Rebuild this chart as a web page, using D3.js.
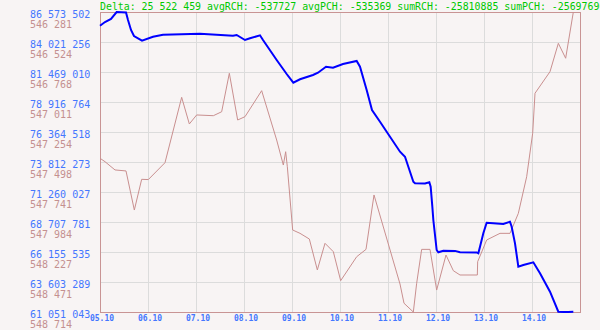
<!DOCTYPE html>
<html>
<head>
<meta charset="utf-8">
<script src="https://cdn.jsdelivr.net/npm/d3@7"></script>
<style>
  body { margin: 0; background: #f8f4f4; }
  svg { display: block; }
  text { font-family: "DejaVu Sans Mono", "Liberation Mono", monospace; }
</style>
</head>
<body>
<script>
// blue series (RCH) - timestamps and values
var blueTimes = ['10-05 00:00', '10-05 02:30', '10-05 05:30', '10-05 08:20', '10-05 13:00', '10-05 14:00',
  '10-05 15:30', '10-05 17:00', '10-05 21:00', '10-06 02:30', '10-06 07:30', '10-07 02:00', '10-07 18:30',
  '10-07 20:20', '10-08 00:30', '10-08 03:00', '10-08 08:00', '10-08 09:30', '10-08 16:20', '10-08 21:20',
  '10-09 00:40', '10-09 04:00', '10-09 10:30', '10-09 13:00', '10-09 17:00', '10-09 20:30', '10-10 01:30',
  '10-10 08:20', '10-10 10:00', '10-10 13:20', '10-10 16:00', '10-10 20:00', '10-10 23:20', '10-11 06:00',
  '10-11 08:30', '10-11 10:10', '10-11 12:40', '10-11 13:30', '10-11 18:30', '10-11 20:40', '10-11 21:20',
  '10-11 22:10', '10-11 22:40', '10-12 00:20', '10-12 01:10', '10-12 03:40', '10-12 09:30', '10-12 12:00',
  '10-12 20:20', '10-12 21:10', '10-12 22:00', '10-12 23:40', '10-13 01:20', '10-13 04:40', '10-13 09:40',
  '10-13 13:00', '10-13 13:50', '10-13 15:30', '10-13 17:10', '10-13 19:40', '10-14 00:40', '10-14 04:00',
  '10-14 09:00', '10-14 13:10', '10-14 15:40', '10-14 18:00', '10-14 20:40']
var blueValues = [85407976, 85722753, 85977978, 86573502, 86530000, 85892903,
  85042155, 84531705, 84131854, 84472153, 84642303, 84727378, 84557228,
  84616780, 84191406, 84336033, 84591258, 84191406, 82489909, 81298861,
  80558709, 80847964, 81213786, 81409458, 81919907, 81834832, 82149609,
  82404834, 81919907, 79937663, 78236166, 77240790, 76390041, 74688544,
  74263170, 73412421, 72136298, 72000178, 71990000, 72085253, 71710924,
  70009427, 68877931, 66325685, 66130013, 66266133, 66250000, 66130013,
  66120000, 66044938, 66606433, 67746430, 68648230, 68597184, 68537632,
  68733304, 68307930, 66895687, 64904936, 65049562, 65279264, 64343441,
  62778063, 61076567, 61051043, 61060000, 61076567]

// pink series (PCH)
var pinkTimes = ['10-05 00:00', '10-05 02:30', '10-05 07:30', '10-05 13:00', '10-05 17:10', '10-05 20:50',
  '10-06 00:10', '10-06 08:30', '10-06 16:50', '10-06 20:40', '10-07 00:20', '10-07 08:40', '10-07 12:50',
  '10-07 16:40', '10-07 20:50', '10-08 00:30', '10-08 08:50', '10-08 16:20', '10-08 19:40', '10-08 20:50',
  '10-08 21:40', '10-09 00:20', '10-09 04:00', '10-09 08:40', '10-09 12:40', '10-09 16:30', '10-09 20:40',
  '10-10 00:20', '10-10 08:20', '10-10 13:00', '10-10 17:00', '10-11 06:00', '10-11 08:00', '10-11 12:40',
  '10-11 14:20', '10-11 16:50', '10-11 21:00', '10-12 00:20', '10-12 05:00', '10-12 08:40', '10-12 12:00',
  '10-12 20:40', '10-12 20:50', '10-13 01:20', '10-13 08:00', '10-13 13:00', '10-13 17:10', '10-13 21:20',
  '10-14 00:20', '10-14 01:30', '10-14 09:00', '10-14 13:10', '10-14 16:50', '10-14 20:40']
var pinkValues = [547467, 547495, 547562, 547570, 547887, 547638,
  547640, 547503, 546973, 547189, 547116, 547122, 547090,
  546778, 547157, 547130, 546919, 547319, 547522, 547414,
  547536, 548049, 548076, 548122, 548373, 548157, 548225,
  548460, 548266, 548206, 547765, 548487, 548643, 548714,
  548481, 548206, 548206, 548536, 548252, 548379, 548414,
  548414, 548306, 548130, 548076, 548076, 547914, 547617,
  547265, 546940, 546765, 546535, 546656, 546281]

var header = 'Delta: 25 522 459 avgRCH: -537727 avgPCH: -535369 sumRCH: -25810885 sumPCH: -25697690'
var dayStart = '10-05 00:00'
var dayEnd = '10-15 00:00'

var width = 600
var height = 330
var margin = { top: 12, right: 20, bottom: 18, left: 100 }

var parse = d3.timeParse('%m-%d %H:%M')
var fmtNum = function (v) { return d3.format(',')(Math.round(v)).replace(/,/g, ' ') }

var svg = d3.select('body').append('svg')
  .attr('width', width)
  .attr('height', height)

var x = d3.scaleTime()
  .domain([parse(dayStart), parse(dayEnd)])
  .range([margin.left, width - margin.right])

var blueExt = d3.extent(blueValues)
var pinkExt = d3.extent(pinkValues)

var yBlue = d3.scaleLinear()
  .domain(blueExt)
  .range([height - margin.bottom, margin.top])

// pink axis runs the other way: smallest value at the top
var yPink = d3.scaleLinear()
  .domain([pinkExt[1], pinkExt[0]])
  .range([height - margin.bottom, margin.top])

var blueTicks = d3.range(11).map(function (i) { return blueExt[1] - i * (blueExt[1] - blueExt[0]) / 10 })
var pinkTicks = d3.range(11).map(function (i) { return pinkExt[0] + i * (pinkExt[1] - pinkExt[0]) / 10 })

// grid
svg.append('g')
  .selectAll('line.h')
  .data(blueTicks)
  .enter().append('line')
  .attr('x1', margin.left)
  .attr('x2', width - margin.right)
  .attr('y1', function (d) { return Math.round(yBlue(d)) + 0.5 })
  .attr('y2', function (d) { return Math.round(yBlue(d)) + 0.5 })
  .attr('stroke', '#dcdcdc')

var days = x.ticks(d3.timeDay.every(1))
svg.append('g')
  .selectAll('line.v')
  .data(days)
  .enter().append('line')
  .attr('x1', function (d) { return Math.round(x(d)) + 0.5 })
  .attr('x2', function (d) { return Math.round(x(d)) + 0.5 })
  .attr('y1', margin.top)
  .attr('y2', height - margin.bottom)
  .attr('stroke', '#dcdcdc')

// frame
svg.append('rect')
  .attr('x', margin.left + 0.5)
  .attr('y', margin.top + 0.5)
  .attr('width', width - margin.left - margin.right)
  .attr('height', height - margin.top - margin.bottom)
  .attr('fill', 'none')
  .attr('stroke', '#c99494')

// y labels
svg.append('g')
  .selectAll('text')
  .data(blueTicks)
  .enter().append('text')
  .attr('x', 30)
  .attr('y', function (d) { return yBlue(d) + 5.5 })
  .attr('font-size', 10)
  .attr('fill', '#4477ff')
  .text(fmtNum)

svg.append('g')
  .selectAll('text')
  .data(pinkTicks)
  .enter().append('text')
  .attr('x', 30)
  .attr('y', function (d) { return yPink(d) + 15.5 })
  .attr('font-size', 10)
  .attr('fill', '#c49090')
  .text(fmtNum)

// x labels
svg.append('g')
  .selectAll('text')
  .data(days.slice(0, -1))
  .enter().append('text')
  .attr('x', function (d) { return x(d) + 2 })
  .attr('y', 321)
  .attr('text-anchor', 'middle')
  .attr('font-size', 8)
  .attr('font-weight', 'bold')
  .attr('fill', '#4477ff')
  .text(d3.timeFormat('%d.%m'))

// lines
var pinkData = pinkTimes.map(function (t, i) { return [parse(t), pinkValues[i]] })
var blueData = blueTimes.map(function (t, i) { return [parse(t), blueValues[i]] })

svg.append('path')
  .datum(pinkData)
  .attr('fill', 'none')
  .attr('stroke', '#c98f8f')
  .attr('stroke-width', 1)
  .attr('d', d3.line()
    .x(function (d) { return x(d[0]) })
    .y(function (d) { return yPink(d[1]) }))

svg.append('path')
  .datum(blueData)
  .attr('fill', 'none')
  .attr('stroke', '#0000ff')
  .attr('stroke-width', 2)
  .attr('d', d3.line()
    .x(function (d) { return x(d[0]) })
    .y(function (d) { return yBlue(d[1]) }))

// header (runs past the right edge, as in the source chart)
svg.append('text')
  .attr('x', margin.left)
  .attr('y', 10)
  .attr('font-size', 9.9)
  .attr('fill', '#00c800')
  .text(header)
</script>
</body>
</html>
